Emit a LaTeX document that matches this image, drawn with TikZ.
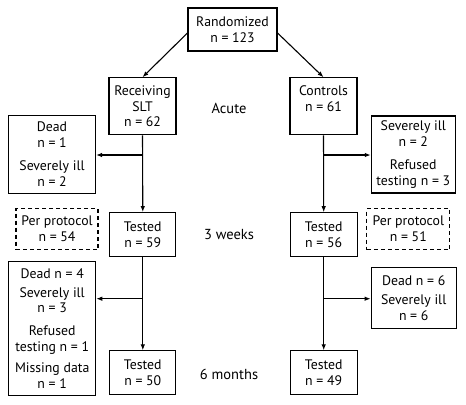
\documentclass[tikz,border=0pt]{standalone}
\usepackage{fontspec}
\setmainfont{PT Sans}
\usetikzlibrary{arrows.meta}
\begin{document}
\begin{tikzpicture}[x=1bp, y=-1bp, >={Latex[length=6bp,width=4.5bp]}, line width=1.1bp,
    box/.style={draw, align=center, inner sep=0pt, font=\fontsize{13.8bp}{15.8bp}\selectfont},
    ppbox/.style={box, dashed, dash pattern=on 4bp off 3bp},
    phase/.style={font=\fontsize{14.5bp}{16bp}\selectfont}]
    \useasboundingbox (0,0) rectangle (466,404);
    \node[box, minimum width=89bp, minimum height=43bp] (rand) at (232.5,29.5) {Randomized\\n = 123};
    \node[box, minimum width=67bp, minimum height=57bp] (slt) at (142.5,106.3) {Receiving\\SLT\\n = 62};
    \node[box, minimum width=67bp, minimum height=57bp] (ctrl) at (323.5,106.3) {Controls\\n = 61\\~};
    \node[box, minimum width=87bp, minimum height=78bp] (lossA1) at (52,154.2) {Dead\\n = 1\\[7bp]Severely ill\\n = 2};
    \node[box, minimum width=84bp, minimum height=77bp] (lossA2) at (413.3,154.5) {Severely ill\\n = 2\\[7bp]Refused\\testing n = 3};
    \node[ppbox, minimum width=82bp, minimum height=41bp] (pp1) at (57,229) {Per protocol\\n = 54};
    \node[box, minimum width=66bp, minimum height=43.5bp] (t59) at (142.8,234.4) {Tested\\n = 59};
    \node[box, minimum width=67bp, minimum height=43.5bp] (t56) at (323.7,234.5) {Tested\\n = 56};
    \node[ppbox, minimum width=83bp, minimum height=41bp] (pp2) at (408.3,229) {Per protocol\\n = 51};
    \node[box, minimum width=87bp, minimum height=134bp] (lossB1) at (52.2,328.2) {Dead n = 4\\[3bp]Severely ill\\n = 3\\[7bp]Refused\\testing n = 1\\[5bp]Missing data\\n = 1};
    \node[box, minimum width=85bp, minimum height=61bp] (lossB2) at (413.7,298.3) {Dead n = 6\\[3bp]Severely ill\\n = 6};
    \node[box, minimum width=66bp, minimum height=44bp] (t50) at (142.8,372.9) {Tested\\n = 50};
    \node[box, minimum width=67bp, minimum height=44bp] (t49) at (323.7,372.9) {Tested\\n = 49};
    \node[phase] (acute) at (229,108) {Acute};
    \node[phase] (wk3) at (229,235) {3 weeks};
    \node[phase] (mo6) at (229,374) {6 months};
    \coordinate (j1) at (142.8,155);
    \coordinate (j2) at (323.7,155);
    \coordinate (j3) at (142.8,298.7);
    \coordinate (j4) at (323.7,298.7);
    \draw[->] ([yshift=-3.5bp]rand.west) -- (slt.north);
    \draw[->] ([yshift=-3.5bp]rand.east) -- (ctrl.north);
    \draw[->] (slt.south) -- (t59.north);
    \draw[->] (ctrl.south) -- (t56.north);
    \draw[->] (j1) -- (j1 -| lossA1.east);
    \draw[->] (j2) -- (j2 -| lossA2.west);
    \draw[->] (t59.south) -- (t50.north);
    \draw[->] (t56.south) -- (t49.north);
    \draw[->] (j3) -- (j3 -| lossB1.east);
    \draw[->] (j4) -- (j4 -| lossB2.west);
\end{tikzpicture}
\end{document}
